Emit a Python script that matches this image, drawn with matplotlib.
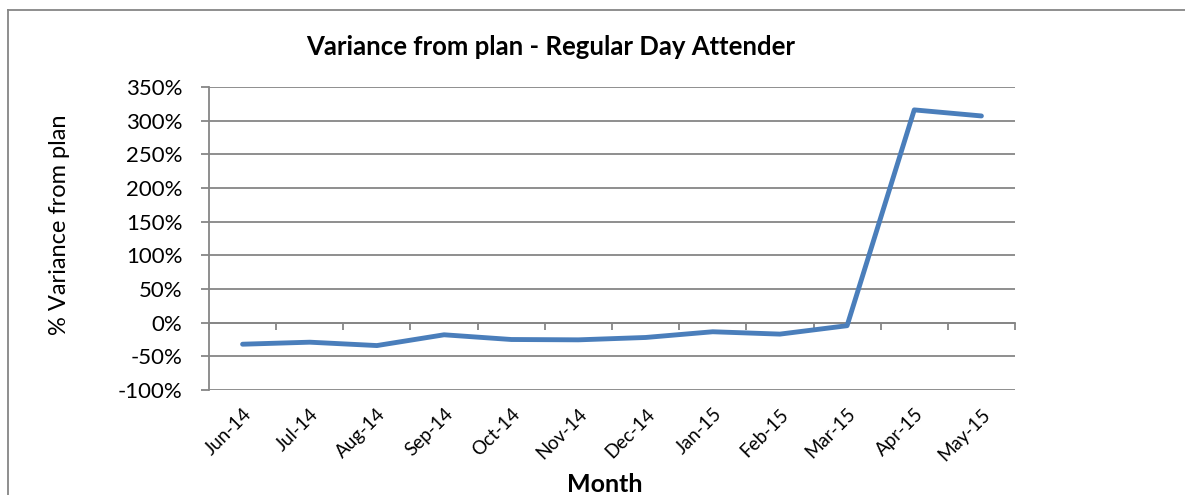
import matplotlib.pyplot as plt
from matplotlib.lines import Line2D
from matplotlib.ticker import FuncFormatter

plt.rcParams['font.family'] = ['Lato', 'DejaVu Sans']

months = ['Jun-14', 'Jul-14', 'Aug-14', 'Sep-14', 'Oct-14', 'Nov-14',
          'Dec-14', 'Jan-15', 'Feb-15', 'Mar-15', 'Apr-15', 'May-15']
variance = [-32, -29, -34, -18, -25, -25.5, -22, -13.5, -17, -4.5, 316, 307]
yticks = [-100, -50, 0, 50, 100, 150, 200, 250, 300, 350]

grey = '#868686'
blue = '#4A7EBB'

fig = plt.figure(figsize=(11.85, 4.95), dpi=100)
ax = fig.add_axes([209 / 1185, 1 - 390 / 495, 806 / 1185, 303 / 495])

x = list(range(len(months)))
ax.plot(x, variance, color=blue, lw=3.5, solid_capstyle='round', zorder=3)

ax.set_xlim(-0.5, len(months) - 0.5)
ax.set_ylim(yticks[0], yticks[-1])
ax.set_yticks(yticks)
ax.yaxis.set_major_formatter(FuncFormatter(lambda v, p: f'{v:.0f}%'))
ax.grid(axis='y', color=grey, lw=1.3)
ax.set_axisbelow(True)

for s in ('top', 'right'):
    ax.spines[s].set_visible(False)
ax.spines['left'].set_color(grey)
ax.spines['left'].set_linewidth(1.3)
ax.spines['bottom'].set_position(('data', 0))
ax.spines['bottom'].set_color(grey)
ax.spines['bottom'].set_linewidth(1.3)

# category boundary ticks on the zero line
ax.set_xticks([i - 0.5 for i in range(len(months) + 1)])
ax.tick_params(axis='x', direction='out', length=5, width=1.3, color=grey,
               labelbottom=False)
ax.tick_params(axis='y', direction='out', length=6, width=1.3, color=grey,
               pad=13, labelsize=16)

# month labels at the bottom of the plot
sec = ax.secondary_xaxis('bottom')
sec.set_xticks(x)
sec.set_xticklabels(months, rotation=45, ha='right', rotation_mode='anchor',
                    fontsize=13.5)
sec.tick_params(length=0, pad=11)
sec.spines['bottom'].set_visible(False)

ax.set_ylabel('% Variance from plan', fontsize=17)
ax.yaxis.set_label_coords(-0.1725, 0.545)

fig.text(551 / 1185, 1 - 47 / 495, 'Variance from plan - Regular Day Attender',
         ha='center', va='center', fontsize=18.5, fontweight='bold')
fig.text(605 / 1185, 1 - 484 / 495, 'Month', ha='center', va='center',
         fontsize=18, fontweight='bold')

# chart area border (left and top visible)
fig.add_artist(Line2D([8 / 1185, 8 / 1185], [0, 1 - 10 / 495],
                      transform=fig.transFigure, color=grey, lw=1.3))
fig.add_artist(Line2D([8 / 1185, 1], [1 - 10 / 495, 1 - 10 / 495],
                      transform=fig.transFigure, color=grey, lw=1.3))

fig.savefig('out.png', dpi=100)
